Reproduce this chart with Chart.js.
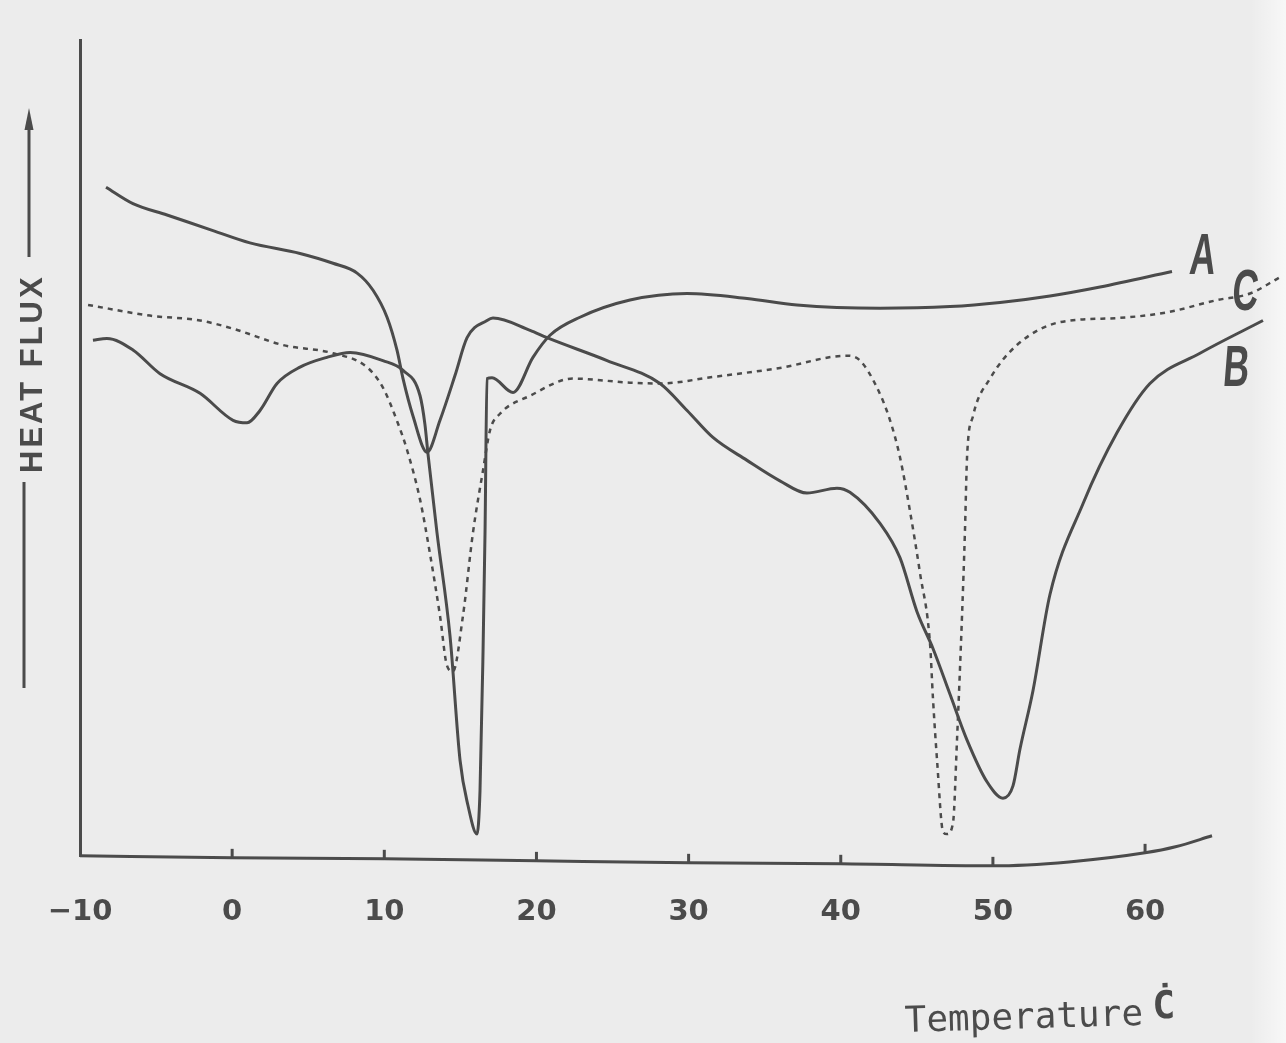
<!DOCTYPE html>
<html>
<head>
<meta charset="utf-8">
<script src="https://cdn.jsdelivr.net/npm/chart.js@4.4.1/dist/chart.umd.min.js"></script>
<style>
  html, body { margin: 0; padding: 0; background: #ececec; }
  canvas { display: block; }
</style>
</head>
<body>
<canvas id="chart" width="1286" height="1043"></canvas>
<script>
// curve A: small dip near 0 C, sharp dip at ~16 C, then flat
const tempA = [-9.15, -8.23, -6.52, -4.74, -2.11, 0.06, 0.98, 1.83, 2.95, 4.46, 6.23, 7.75, 9.91, 11.23, 12.35, 12.67, 12.87, 13.46, 14.32, 14.98, 15.5, 16.09, 16.29, 16.49, 16.62, 16.75, 17.08, 18.46, 19.77, 20.89, 22.86, 26.15, 29.9, 33.84, 37.12, 42.58, 47.18, 50.47, 53.75, 57.04, 61.77];
const fluxA = [63.3, 63.5, 62.1, 59.2, 56.8, 53.5, 53.2, 54.7, 58.0, 60.0, 61.2, 61.8, 60.8, 59.6, 56.5, 53.0, 49.4, 39.8, 27.1, 11.9, 6.4, 2.9, 8.2, 25.3, 39.8, 58.6, 58.7, 56.9, 61.2, 63.9, 66.1, 68.2, 69.0, 68.4, 67.6, 67.2, 67.4, 67.9, 68.7, 69.8, 71.7];

// curve B: dip at ~13 C, broad dip at ~51 C
const tempB = [-8.29, -6.52, -4.28, -1.26, 1.17, 4.46, 6.63, 8.21, 9.26, 10.18, 10.83, 11.23, 11.89, 12.81, 13.66, 14.65, 15.44, 16.75, 17.14, 19.58, 20.69, 24.64, 28.12, 29.9, 31.6, 33.84, 36.0, 37.78, 39.75, 40.6, 42.58, 43.89, 45.01, 46.06, 47.18, 48.30, 49.61, 50.66, 51.32, 51.78, 52.63, 53.75, 55.92, 58.16, 60.32, 63.61, 67.75];
const fluxB = [82.0, 80.0, 78.6, 76.7, 75.2, 73.9, 72.7, 71.5, 69.4, 66.1, 62.1, 58.6, 54.0, 49.6, 53.5, 59.0, 63.6, 65.7, 66.0, 64.5, 63.6, 60.8, 58.0, 54.7, 51.4, 48.6, 46.1, 44.6, 45.2, 44.7, 40.9, 36.7, 30.1, 25.6, 20.0, 14.4, 9.3, 7.3, 8.8, 13.3, 20.4, 32.2, 43.3, 52.0, 58.0, 61.7, 65.7];

// curve C (dashed): dips at ~14.5 C and ~47 C
const tempC = [-9.47, -5.40, -2.11, 0.06, 3.34, 6.63, 8.86, 9.91, 10.90, 11.49, 12.35, 13.00, 13.66, 14.12, 14.51, 15.17, 15.83, 16.49, 16.95, 17.6, 19.58, 22.4, 26.15, 28.12, 31.6, 36.0, 40.41, 41.27, 42.38, 43.24, 43.89, 44.55, 45.21, 45.87, 46.06, 46.33, 46.72, 46.98, 47.38, 47.64, 47.97, 48.16, 48.30, 48.69, 49.81, 51.58, 54.41, 58.16, 61.44, 64.73, 66.90, 68.87];
const fluxC = [67.6, 66.3, 65.7, 64.7, 62.7, 61.7, 60.0, 57.5, 53.1, 49.9, 43.8, 37.2, 29.6, 23.5, 22.8, 29.6, 39.8, 47.4, 52.3, 54.3, 56.5, 58.6, 58.1, 58.0, 58.8, 59.9, 61.4, 60.8, 57.5, 53.5, 49.0, 42.4, 34.8, 26.1, 19.5, 11.9, 3.2, 2.9, 4.3, 14.4, 29.6, 39.8, 49.0, 54.0, 58.6, 62.7, 65.5, 66.0, 66.7, 68.2, 69.0, 71.0];

// drawn x axis (sags a little, then bends up at the hot end)
const tempBase = [-10, 0, 10, 20, 30, 40, 50, 55, 60, 62, 64.4];
const fluxBase = [0.24, 0, -0.12, -0.37, -0.61, -0.73, -0.98, -0.5, 0.61, 1.35, 2.7];

const tickTemps = [-10, 0, 10, 20, 30, 40, 50, 60];

const ink = "#4b4b4b";

// where the curve letters sit (temperature, heat flux)
const letterSpots = { A: [63.8, 73.6], C: [66.6, 69.2], B: [66.0, 59.9] };

function toPoints(xs, ys) {
  return xs.map((x, i) => ({ x: x, y: ys[i] }));
}

function curve(label, xs, ys, extra) {
  return Object.assign({
    label: label,
    data: toPoints(xs, ys),
    borderColor: ink,
    borderWidth: 3,
    pointRadius: 0,
    fill: false,
    cubicInterpolationMode: "monotone",
  }, extra || {});
}

const paper = {
  id: "paper",
  beforeDraw(chart) {
    const ctx = chart.ctx;
    ctx.save();
    ctx.fillStyle = "#ececec";
    ctx.fillRect(0, 0, chart.width, chart.height);
    let g = ctx.createLinearGradient(1250, 0, chart.width, 0);
    g.addColorStop(0, "rgba(255,255,255,0)");
    g.addColorStop(1, "rgba(255,255,255,0.6)");
    ctx.fillStyle = g;
    ctx.fillRect(1250, 0, chart.width - 1250, chart.height);
    ctx.restore();
  },
};

const marks = {
  id: "marks",
  afterDatasetsDraw(chart) {
    const ctx = chart.ctx;
    const x = chart.scales.x;
    const y = chart.scales.y;
    ctx.save();
    ctx.strokeStyle = ink;
    ctx.fillStyle = ink;

    // small tick marks standing on the drawn axis
    ctx.lineWidth = 3;
    tickTemps.forEach((t) => {
      let i = tempBase.indexOf(t);
      if (t === -10 || i < 0) return;
      let px = x.getPixelForValue(t);
      let py = y.getPixelForValue(fluxBase[i]);
      ctx.beginPath();
      ctx.moveTo(px, py);
      ctx.lineTo(px, py - 9);
      ctx.stroke();
    });

    // curve letters, narrow bold
    Object.keys(letterSpots).forEach((k) => {
      let px = x.getPixelForValue(letterSpots[k][0]);
      let py = y.getPixelForValue(letterSpots[k][1]);
      ctx.save();
      ctx.translate(px, py);
      ctx.transform(0.62, 0, -0.08, 1, 0, 0);
      ctx.font = "bold 58px 'Liberation Sans'";
      ctx.textAlign = "center";
      ctx.textBaseline = "middle";
      ctx.fillText(k, 0, 2);
      ctx.restore();
    });

    // y axis title with arrow
    ctx.lineWidth = 3;
    ctx.beginPath();
    ctx.moveTo(24, 482);
    ctx.lineTo(24, 688);
    ctx.stroke();
    ctx.beginPath();
    ctx.moveTo(29, 257);
    ctx.lineTo(29, 124);
    ctx.stroke();
    ctx.beginPath();
    ctx.moveTo(29, 108);
    ctx.lineTo(24.5, 130);
    ctx.lineTo(33.5, 130);
    ctx.closePath();
    ctx.fill();

    ctx.save();
    ctx.translate(32, 473);
    ctx.rotate(-Math.PI / 2);
    ctx.font = "bold 31px 'Liberation Sans'";
    ctx.letterSpacing = "3px";
    ctx.textAlign = "left";
    ctx.textBaseline = "middle";
    ctx.fillText("HEAT FLUX", 0, 1);
    ctx.restore();

    // x axis title, typewriter style
    ctx.save();
    ctx.translate(905, 1032);
    ctx.rotate(-0.03);
    ctx.font = "36px 'DejaVu Sans Mono'";
    ctx.textBaseline = "alphabetic";
    ctx.fillText("Temperature", 0, 0);
    ctx.font = "bold 38px 'DejaVu Sans Mono'";
    ctx.fillText("\u010A", 248, -6);
    ctx.restore();

    ctx.restore();
  },
};

const canvas = document.querySelector("#chart");

new Chart(canvas, {
  type: "line",
  data: {
    datasets: [
      curve("A", tempA, fluxA),
      curve("B", tempB, fluxB),
      curve("C", tempC, fluxC, { borderWidth: 2.5, borderDash: [5, 5] }),
      curve("axis", tempBase, fluxBase, { clip: false }),
    ],
  },
  options: {
    responsive: false,
    animation: false,
    layout: {
      padding: { left: 80, right: 4, top: 40, bottom: 74 },
    },
    plugins: {
      legend: { display: false },
      tooltip: { enabled: false },
    },
    scales: {
      x: {
        type: "linear",
        min: -10,
        max: 69,
        border: { display: false },
        grid: { display: false, drawTicks: false },
        afterBuildTicks: (scale) => {
          scale.ticks = tickTemps.map((v) => ({ value: v }));
        },
        ticks: {
          padding: 39,
          color: ink,
          autoSkip: false,
          maxRotation: 0,
          font: { family: "'DejaVu Sans'", size: 29, weight: "bold" },
          callback: (v) => (v < 0 ? "\u2212" + Math.abs(v) : String(v)),
        },
      },
      y: {
        min: 0.2,
        max: 100,
        ticks: { display: false },
        grid: { display: false, drawTicks: false },
        border: { display: true, color: ink, width: 3 },
      },
    },
  },
  plugins: [paper, marks],
});
</script>
</body>
</html>
